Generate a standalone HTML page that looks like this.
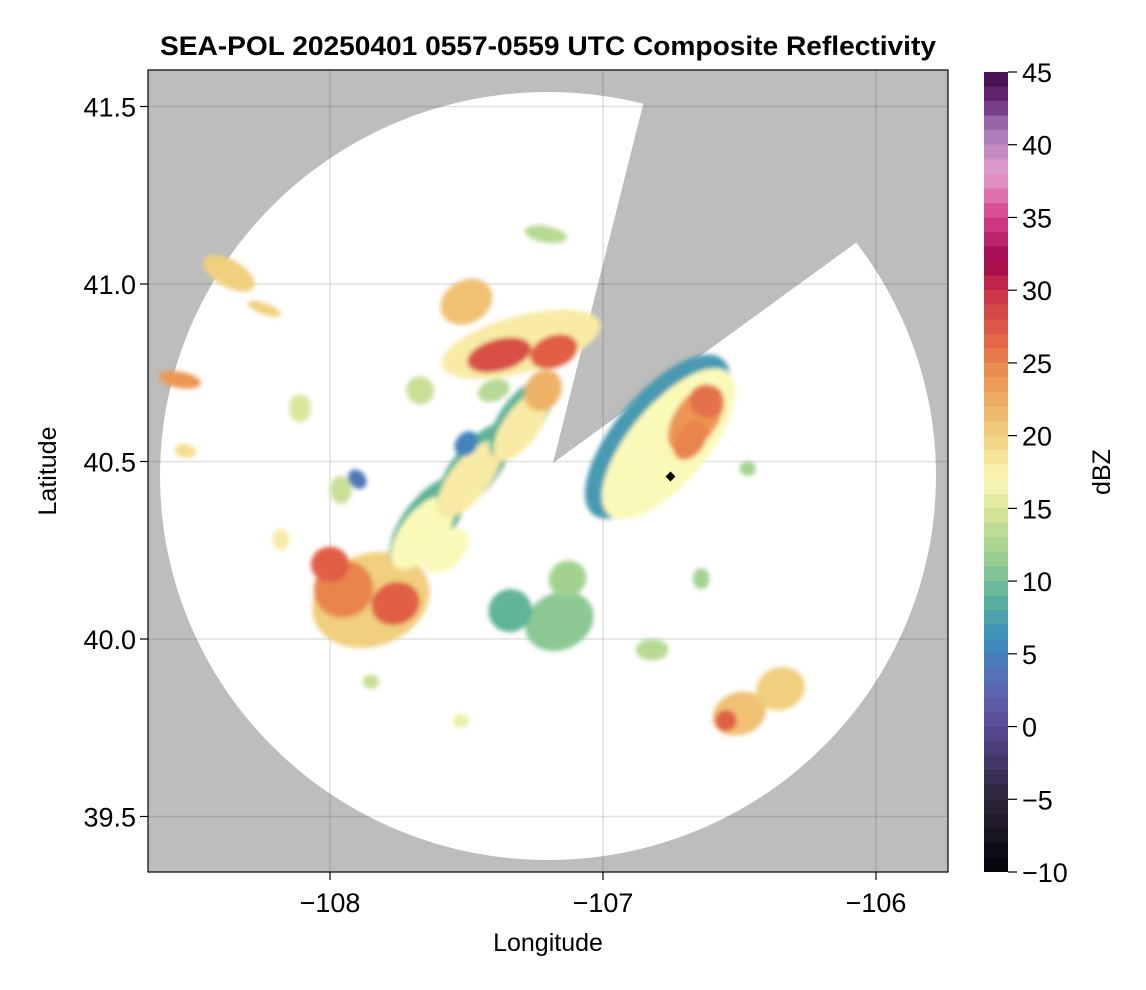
<!DOCTYPE html>
<html><head><meta charset="utf-8"><style>
body{margin:0;background:#fff;}
svg{display:block;font-family:"Liberation Sans",Arial,sans-serif;}
</style></head><body>
<svg id="chart" width="1146" height="990">
<defs>
<clipPath id="plotclip"><rect x="148" y="70" width="800" height="802"/></clipPath>
<filter id="soft" x="-30%" y="-30%" width="160%" height="160%"><feGaussianBlur stdDeviation="2.5"/></filter>
<linearGradient id="cbgrad" x1="0" y1="1" x2="0" y2="0"></linearGradient>
</defs>
<text x="548" y="55" text-anchor="middle" font-size="27" font-weight="bold" textLength="776" lengthAdjust="spacingAndGlyphs">SEA-POL 20250401 0557-0559 UTC Composite Reflectivity</text>
<g clip-path="url(#plotclip)">
<rect x="148" y="70" width="800" height="802" fill="#bdbdbd"/>
<ellipse cx="548" cy="476" rx="388" ry="384" fill="#fff"/>
<polygon points="553,463 737,-269 1161,21" fill="#bdbdbd"/>
<g id="grid"></g>
<g id="blobs" filter="url(#soft)"></g>
<rect x="667" y="473" width="7" height="7" transform="rotate(45 670.5 476.5)" fill="#000"/>
</g>
<g id="axes"></g>
<text x="548" y="951" text-anchor="middle" font-size="25">Longitude</text>
<text x="56" y="471" text-anchor="middle" font-size="25" transform="rotate(-90 56 471)">Latitude</text>
<rect x="984" y="72" width="24" height="800" fill="url(#cbgrad)"/>
<g id="cbaxis"></g>
<text x="1110" y="472" text-anchor="middle" font-size="25" transform="rotate(-90 1110 472)">dBZ</text>
</svg>
<script>
const lonTicks=[-108,-107,-106];
const latTicks=[39.5,40.0,40.5,41.0,41.5];
const cbTicks=[-10,-5,0,5,10,15,20,25,30,35,40,45];
// blobs: lon, lat, half-width lon, half-height lat, tilt deg, dBZ
const blobLon=[-107.85,-107.95,-107.76,-108.0,-107.64,-107.66,-107.47,-107.49,-107.3,-107.3,-107.22,-107.5,-107.58,-107.3,-107.38,-107.18,-107.5,-106.8,-106.76,-106.66,-106.68,-106.62,-106.5,-106.55,-106.35,-107.16,-107.34,-107.13,-108.37,-108.55,-108.53,-108.24,-108.11,-107.96,-107.67,-107.21,-106.64,-106.82,-106.47,-108.18,-107.85,-107.52,-107.4,-107.9];
const blobLat=[40.11,40.14,40.1,40.21,40.33,40.3,40.48,40.45,40.62,40.6,40.7,40.55,40.25,40.83,40.8,40.81,40.95,40.57,40.55,40.62,40.56,40.67,39.79,39.77,39.86,40.05,40.08,40.17,41.03,40.73,40.53,40.93,40.65,40.42,40.7,41.14,40.17,39.97,40.48,40.28,39.88,39.77,40.7,40.45];
const blobRx=[0.22,0.11,0.09,0.07,0.2,0.16,0.2,0.17,0.17,0.15,0.08,0.05,0.1,0.3,0.12,0.09,0.1,0.37,0.34,0.14,0.08,0.06,0.1,0.04,0.09,0.13,0.08,0.07,0.05,0.03,0.025,0.02,0.04,0.04,0.05,0.03,0.03,0.06,0.03,0.03,0.03,0.03,0.06,0.03];
const blobRy=[0.13,0.08,0.06,0.05,0.07,0.06,0.065,0.055,0.06,0.05,0.05,0.03,0.05,0.08,0.045,0.045,0.06,0.12,0.11,0.06,0.04,0.05,0.06,0.03,0.06,0.08,0.06,0.05,0.08,0.06,0.03,0.05,0.04,0.04,0.04,0.06,0.03,0.03,0.02,0.03,0.02,0.02,0.03,0.03];
const blobTilt=[-20,-20,-20,0,-52,-52,-52,-52,-55,-55,-60,-50,-40,-15,-15,-20,-30,-50,-50,-55,-55,-55,-20,-20,-20,-25,-30,-30,-60,-80,-80,-70,0,0,-30,-80,0,0,0,0,0,0,-20,-40];
const blobDbz=[20,25,27,27,9,17,9,18,9,18,22,5,17,18,28,27,21,7,17,24,25,26,21,27,20,11,9,12,20,24,19,20,15,14,14,13,12,13,12,18,14,16,13,4];

const X=v=>330+(v+108)*273;
const Y=v=>639-(v-40)*355;
const CB=v=>872-(v+10)/55*800;
const NS='http://www.w3.org/2000/svg';
const stops=[[-10,'#050308'],[-5,'#2b2438'],[0,'#5a4a95'],[3,'#5b6cb6'],[6,'#3a8dbd'],[9,'#5fb49a'],[12,'#a3d28f'],[15,'#dbe69a'],[17,'#fbf9b8'],[20,'#f0cf7e'],[24,'#ec9653'],[27,'#e05f44'],[30,'#c9304a'],[32,'#a0054a'],[35,'#d7408f'],[38,'#e59ecd'],[41,'#a678b8'],[43,'#6a2a78'],[45,'#3d0a48']];
function hex(c){return[1,3,5].map(i=>parseInt(c.substr(i,2),16));}
function cmap(v){for(let i=0;i<stops.length-1;i++){const a=stops[i],b=stops[i+1];if(v<=b[0]){const t=(v-a[0])/(b[0]-a[0]);const A=hex(a[1]),B=hex(b[1]);return 'rgb('+A.map((x,k)=>Math.round(x+(B[k]-x)*t)).join(',')+')';}}return stops[stops.length-1][1];}
const grad=document.getElementById('cbgrad');
for(let d=-10;d<45;d++){for(const e of [d,d+1]){const s=document.createElementNS(NS,'stop');s.setAttribute('offset',((e+10)/55).toFixed(4));s.setAttribute('stop-color',cmap(d+0.5));grad.appendChild(s);}}
function mk(tag,attrs,parent){const el=document.createElementNS(NS,tag);for(const k in attrs)el.setAttribute(k,attrs[k]);parent.appendChild(el);return el;}
const grid=document.getElementById('grid'),axes=document.getElementById('axes'),cba=document.getElementById('cbaxis');
lonTicks.forEach(t=>{
 const g=mk('line',{x1:X(t),x2:X(t),y1:70,y2:872,stroke:'#000','stroke-opacity':0.12,'stroke-width':1.5},grid);
 
 
 const tk=mk('line',{x1:X(t),x2:X(t),y1:872,y2:880,stroke:'#000','stroke-width':1.2},axes);
 
 
 const l=mk('text',{x:X(t),y:912,'text-anchor':'middle','font-size':27},axes);l.textContent='\u2212'+Math.abs(t);
 
 
});
latTicks.forEach(t=>{
 const g=mk('line',{y1:Y(t),y2:Y(t),x1:148,x2:948,stroke:'#000','stroke-opacity':0.12,'stroke-width':1.5},grid);
 
 
 const tk=mk('line',{y1:Y(t),y2:Y(t),x1:140,x2:148,stroke:'#000','stroke-width':1.2},axes);
 
 
 const l=mk('text',{x:136,y:Y(t)+10,'text-anchor':'end','font-size':27},axes);l.textContent=t.toFixed(1);
 
 
});
cbTicks.forEach(t=>{
 const tk=mk('line',{y1:CB(t),y2:CB(t),x1:1008,x2:1017,stroke:'#000','stroke-width':1.2},cba);
 
 
 const l=mk('text',{x:1022,y:CB(t)+10,'font-size':27},cba);l.textContent=t<0?'\u2212'+Math.abs(t):String(t);
 
 
});
const bl=document.getElementById('blobs');
blobLon.forEach((lo,i)=>{
 const cx=X(lo),cy=Y(blobLat[i]);
 const e=mk('ellipse',{cx:cx,cy:cy,rx:blobRx[i]*273,ry:blobRy[i]*355,fill:cmap(blobDbz[i]),transform:'rotate('+blobTilt[i]+' '+cx+' '+cy+')'},bl);
 
 
});
const fr=mk('rect',{x:148,y:70,width:800,height:802,fill:'none',stroke:'#000','stroke-width':1.2},document.getElementById('chart'));


</script>
</body></html>
